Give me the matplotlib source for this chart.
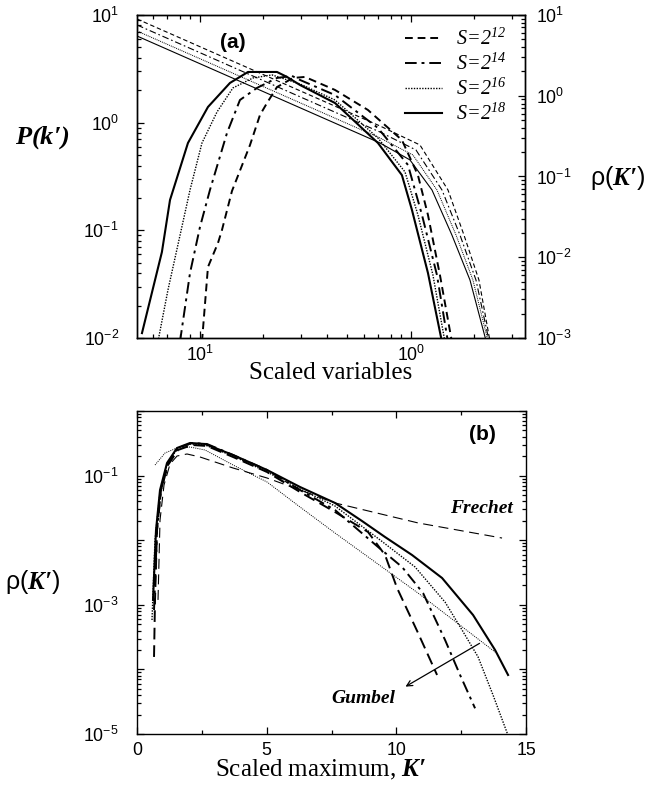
import numpy as np
import matplotlib
matplotlib.use('Agg')
import matplotlib.pyplot as plt
from matplotlib.ticker import LogLocator, NullFormatter, MultipleLocator

plt.rcParams['font.family'] = ['Liberation Sans', 'DejaVu Sans']
plt.rcParams['mathtext.fontset'] = 'custom'
plt.rcParams['mathtext.rm'] = 'Liberation Sans'
plt.rcParams['mathtext.it'] = 'Liberation Serif:italic'
plt.rcParams['mathtext.sf'] = 'Liberation Serif:italic'
plt.rcParams['mathtext.bf'] = 'Liberation Serif:bold:italic'

# ---- panel (a): P(k') power-law lines (left axis) ----
p12_x = [0.0503, 0.713, 1.103, 1.498, 1.783, 2.100, 2.366]
p12_y = [9.18, 0.932, 0.621, 0.237, 0.0906, 0.0346, 0.0095]
p14_x = [0.0503, 0.713, 1.056, 1.403, 1.707, 2.033, 2.343]
p14_y = [8.08, 0.819, 0.558, 0.237, 0.0906, 0.0346, 0.0095]
p16_x = [0.0503, 0.713, 1.022, 1.328, 1.635, 1.966, 2.315]
p16_y = [7.10, 0.721, 0.501, 0.237, 0.0906, 0.0346, 0.0095]
p18_x = [0.0503, 0.713, 0.989, 1.258, 1.563, 1.904, 2.267]
p18_y = [6.38, 0.648, 0.451, 0.237, 0.0906, 0.0346, 0.0095]

# ---- panel (a): rho(K') humps (right axis) ----
r12_x = [0.1022, 0.1091, 0.1217, 0.1271, 0.1418, 0.1726, 0.1925, 0.2078, 0.2317,
         0.2759, 0.3145, 0.4364, 0.625, 0.906, 1.079, 1.204, 1.372, 1.563]
r12_y = [0.0009, 0.00757, 0.0150, 0.0217, 0.0661, 0.245, 0.578, 0.813, 1.28,
         1.66, 1.71, 1.18, 0.667, 0.283, 0.104, 0.0334, 0.00603, 0.0009]
r14_x = [0.0804, 0.0897, 0.1, 0.1115, 0.1343, 0.1547, 0.1863, 0.2317, 0.273,
         0.2978, 0.4364, 0.6976, 0.968, 1.128, 1.328, 1.497]
r14_y = [0.0009, 0.00638, 0.0237, 0.0681, 0.346, 0.886, 1.25, 1.66, 1.76,
         1.57, 1.02, 0.399, 0.139, 0.0334, 0.00603, 0.0009]
r16_x = [0.0632, 0.0705, 0.0897, 0.1022, 0.1204, 0.1433, 0.1783, 0.2195, 0.2978,
         0.4364, 0.6976, 0.937, 1.079, 1.271, 1.449]
r16_y = [0.0009, 0.00393, 0.0681, 0.260, 0.629, 1.25, 1.66, 1.81, 1.40,
         0.886, 0.300, 0.114, 0.0334, 0.00603, 0.0009]
r18_x = [0.0531, 0.0660, 0.0721, 0.0877, 0.1091, 0.1387, 0.1689, 0.2317, 0.2585,
         0.2978, 0.4364, 0.6976, 0.906, 1.011, 1.204, 1.402]
r18_y = [0.00115, 0.0116, 0.0512, 0.260, 0.726, 1.44, 1.97, 1.97, 1.71,
         1.36, 0.813, 0.260, 0.104, 0.0385, 0.00638, 0.0009]

# ---- panel (b): rho(K') vs scaled maximum ----
b12_x = [0.656, 0.694, 0.771, 0.926, 1.196, 1.581, 2.121, 2.700, 3.702, 5.013,
         6.286, 7.636, 8.908, 9.564, 10.027, 10.837, 11.570]
b12_y = [0.000156, 0.00119, 0.0144, 0.0598, 0.1459, 0.2490, 0.2977, 0.2872, 0.1940,
         0.1137, 0.0557, 0.0273, 0.0134, 0.0059, 0.00182, 0.000366, 8.2e-5]
b14_x = [0.656, 0.771, 0.926, 1.196, 1.581, 2.121, 2.700, 3.702, 5.013, 6.286,
         7.636, 9.294, 10.220, 11.030, 11.879, 12.457, 13.035]
b14_y = [0.000831, 0.0144, 0.0598, 0.1567, 0.2675, 0.3196, 0.3084, 0.2084, 0.1221,
         0.0598, 0.0293, 0.00785, 0.00385, 0.00152, 0.000285, 8.2e-5, 2.5e-5]
b16_x = [0.578, 0.694, 0.887, 1.157, 1.543, 2.044, 2.622, 3.702, 5.013, 6.286,
         7.636, 9.371, 10.721, 11.879, 12.534, 13.151, 13.729, 14.308]
b16_y = [0.000582, 0.0101, 0.0557, 0.1512, 0.2581, 0.3084, 0.2977, 0.2010, 0.1137,
         0.0620, 0.0338, 0.0101, 0.00385, 0.0011, 0.000407, 0.000156, 4.0e-5, 9.5e-6]
b18_x = [0.617, 0.733, 0.887, 1.157, 1.543, 2.044, 2.622, 3.702, 5.013, 6.286,
         7.636, 8.677, 9.564, 10.605, 11.763, 12.958, 13.806, 14.308]
b18_y = [0.00119, 0.0144, 0.0598, 0.1567, 0.2675, 0.3196, 0.3084, 0.2084, 0.1221,
         0.0666, 0.0377, 0.0198, 0.0112, 0.0059, 0.0026, 0.000695, 0.0002, 8.2e-5]
frechet_x = [0.810, 0.887, 1.041, 1.273, 1.543, 1.928, 2.430, 3.702, 5.013, 6.286,
             7.636, 10.837, 14.076]
frechet_y = [0.00119, 0.0205, 0.0715, 0.1512, 0.2010, 0.2160, 0.1940, 0.1311, 0.0918,
             0.0598, 0.0377, 0.0185, 0.0108]
gumbel_x = [0.694, 1.080, 1.543, 2.044, 2.622, 3.702, 5.013, 6.286, 7.636, 10.837, 13.806]
gumbel_y = [0.1459, 0.2239, 0.2675, 0.2772, 0.2490, 0.1459, 0.0796, 0.0326, 0.0129,
            0.00152, 0.000186]

labels = [r'$\mathsf{S\!=\!2^{12}}$', r'$\mathsf{S\!=\!2^{14}}$',
          r'$\mathsf{S\!=\!2^{16}}$', r'$\mathsf{S\!=\!2^{18}}$']

ls_dash = (0, (4, 2.5))
ls_dashdot = (0, (6, 2.5, 1.5, 2.5))
ls_dot = (0, (1, 1))

fig = plt.figure(figsize=(6.7, 7.89), dpi=100)

tickfs = 12.8

def style(ax):
    ax.tick_params(which='both', direction='in', labelsize=tickfs, width=0.9)
    ax.tick_params(which='major', length=5)
    ax.tick_params(which='minor', length=2.8)
    for s in ax.spines.values():
        s.set_linewidth(1.0)

# ---------------- panel (a) ----------------
ax = fig.add_axes([0.2045, 0.5716, 0.579, 0.4094])
ax.set_xscale('log')
ax.set_yscale('log')
ax.plot(p12_x, p12_y, color='k', lw=0.8, ls=ls_dash)
ax.plot(p14_x, p14_y, color='k', lw=0.8, ls=ls_dashdot)
ax.plot(p16_x, p16_y, color='k', lw=0.7, ls=ls_dot)
ax.plot(p18_x, p18_y, color='k', lw=0.8)
ax.set_xlim(0.0503, 3.47)
ax.set_ylim(1e-2, 1e1)
ax.set_xticks([0.1, 1], labels=[r'$\mathdefault{10^{1}}$', r'$\mathdefault{10^{0}}$'])
ax.xaxis.set_minor_locator(LogLocator(base=10, subs=np.arange(2, 10)))
ax.xaxis.set_minor_formatter(NullFormatter())
ax.yaxis.set_minor_locator(LogLocator(base=10, subs=np.arange(2, 10)))
ax.yaxis.set_minor_formatter(NullFormatter())
style(ax)
ax.tick_params(axis='x', which='both', top=True, pad=5)
ax.tick_params(axis='y', which='both', right=False, pad=13)

ax2 = ax.twinx()
ax2.set_yscale('log')
h12, = ax2.plot(r12_x, r12_y, color='k', lw=1.4, ls=ls_dash)
h14, = ax2.plot(r14_x, r14_y, color='k', lw=1.4, ls=ls_dashdot)
h16, = ax2.plot(r16_x, r16_y, color='k', lw=1.0, ls=ls_dot)
h18, = ax2.plot(r18_x, r18_y, color='k', lw=1.5)
ax2.set_ylim(1e-3, 1e1)
ax2.set_xlim(0.0503, 3.47)
ax2.yaxis.set_minor_locator(LogLocator(base=10, subs=np.arange(2, 10)))
ax2.yaxis.set_minor_formatter(NullFormatter())
style(ax2)
ax2.tick_params(axis='y', which='both', pad=8)

leg = ax2.legend([h12, h14, h16, h18], labels, loc='upper left',
                 bbox_to_anchor=(0.69, 0.96), frameon=False, fontsize=14.5,
                 handlelength=1.85, handletextpad=0.7, labelspacing=0.18,
                 borderaxespad=0, borderpad=0)

ax2.text(0.247, 0.916, '(a)', transform=ax2.transAxes, ha='center', va='center',
         fontsize=15, fontweight='bold')

fig.text(0.063, 0.825, r'$\mathbf{P(k′)}$', ha='center', va='center', fontsize=19)
fig.text(0.922, 0.774, r'$\mathrm{\rho(}\mathbf{K′}\mathrm{)}$', ha='center',
         va='center', fontsize=18)
fig.text(0.494, 0.527, 'Scaled variables', ha='center', va='center', fontsize=18,
         family='Liberation Serif')

# ---------------- panel (b) ----------------
bx = fig.add_axes([0.2045, 0.0697, 0.5806, 0.4094])
bx.set_yscale('log')
bx.plot(b12_x, b12_y, color='k', lw=1.4, ls=(0, (6, 3)))
bx.plot(b14_x, b14_y, color='k', lw=1.4, ls=ls_dashdot)
bx.plot(b16_x, b16_y, color='k', lw=1.0, ls=ls_dot)
bx.plot(b18_x, b18_y, color='k', lw=1.5)
bx.plot(frechet_x, frechet_y, color='k', lw=0.8, ls=(0, (9, 5)))
bx.plot(gumbel_x, gumbel_y, color='k', lw=0.7, ls=(0, (1, 1.2)))
bx.set_xlim(0, 15)
bx.set_ylim(1e-5, 1)
bx.xaxis.set_major_locator(MultipleLocator(5))
bx.xaxis.set_minor_locator(MultipleLocator(2.5))
bx.set_yticks([1e-5, 1e-4, 1e-3, 1e-2, 1e-1, 1],
              labels=[r'$\mathdefault{10^{-5}}$', '', r'$\mathdefault{10^{-3}}$', '',
                      r'$\mathdefault{10^{-1}}$', ''])
bx.yaxis.set_minor_locator(LogLocator(base=10, subs=np.arange(2, 10)))
bx.yaxis.set_minor_formatter(NullFormatter())
style(bx)
bx.tick_params(which='both', top=True, right=True)
bx.tick_params(axis='x', pad=6)
bx.tick_params(axis='y', pad=13)

bx.annotate('', xy=(10.26, 5.15e-5), xytext=(13.30, 2.66e-4),
            arrowprops=dict(arrowstyle='->', color='k', lw=0.9))
bx.text(9.95, 3.6e-5, 'Gumbel', ha='right', va='center', fontsize=14,
        family='Liberation Serif', fontweight='bold', style='italic')
bx.text(14.5, 0.0315, 'Frechet', ha='right', va='center', fontsize=14,
        family='Liberation Serif', fontweight='bold', style='italic')
bx.text(0.889, 0.926, '(b)', transform=bx.transAxes, ha='center', va='center',
        fontsize=15, fontweight='bold')

fig.text(0.048, 0.262, r'$\mathrm{\rho(}\mathbf{K′}\mathrm{)}$', ha='center',
         va='center', fontsize=18)
fig.text(0.478, 0.024, r'Scaled maximum, $\mathbf{K′}$', ha='center', va='center',
         fontsize=18, family='Liberation Serif')

fig.savefig('out.png', dpi=100)
